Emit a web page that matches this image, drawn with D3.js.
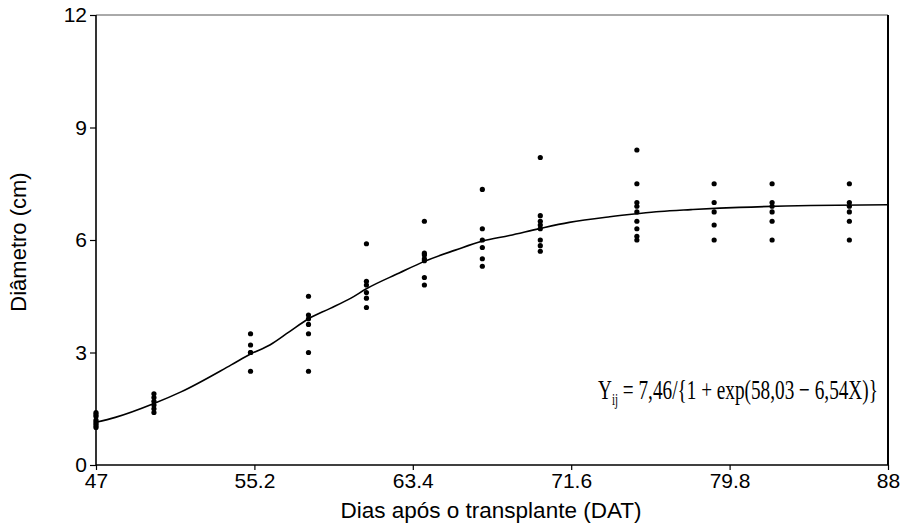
<!DOCTYPE html>
<html>
<head>
<meta charset="utf-8">
<script src="https://cdn.jsdelivr.net/npm/d3@7"></script>
<style>
  html, body { margin: 0; padding: 0; background: #fff; }
  svg { display: block; }
  text { font-family: "Liberation Sans", Arial, Helvetica, sans-serif; fill: #000; }
</style>
</head>
<body>
<svg id="chart" width="901" height="524"></svg>
<script>
// ---- data ----
const days = [47, 50, 55, 58, 61, 64, 67, 70, 75, 79, 82, 86];
const diam47 = [1.0, 1.05, 1.1, 1.15, 1.2, 1.3, 1.35, 1.4];
const diam50 = [1.4, 1.5, 1.6, 1.7, 1.8, 1.9];
const diam55 = [2.5, 3.0, 3.0, 3.2, 3.5];
const diam58 = [2.5, 3.0, 3.5, 3.75, 3.9, 4.0, 4.5];
const diam61 = [4.2, 4.45, 4.6, 4.8, 4.9, 5.9];
const diam64 = [4.8, 5.0, 5.45, 5.5, 5.6, 5.65, 6.5];
const diam67 = [5.3, 5.5, 5.8, 6.0, 6.3, 7.35];
const diam70 = [5.7, 5.85, 6.0, 6.3, 6.4, 6.5, 6.65, 8.2];
const diam75 = [6.0, 6.1, 6.3, 6.5, 6.75, 6.9, 7.0, 7.5, 8.4];
const diam79 = [6.0, 6.4, 6.75, 7.0, 7.5];
const diam82 = [6.0, 6.5, 6.75, 6.9, 7.0, 7.5];
const diam86 = [6.0, 6.5, 6.75, 6.9, 7.0, 7.5];
const diamByDay = [diam47, diam50, diam55, diam58, diam61, diam64, diam67, diam70, diam75, diam79, diam82, diam86];

// fitted curve
const curveX = [47, 48, 50, 51.4, 54, 55, 56, 57, 58, 59.1, 60.2, 61, 62.7, 64, 65.6, 67, 68.4, 70, 71.5, 73.6, 75, 76.2, 77.8, 79.3, 80.3, 84, 88];
const curveY = [1.14, 1.27, 1.64, 1.95, 2.67, 2.96, 3.2, 3.55, 3.9, 4.17, 4.45, 4.7, 5.12, 5.43, 5.73, 5.97, 6.12, 6.31, 6.47, 6.62, 6.7, 6.76, 6.81, 6.85, 6.87, 6.92, 6.94];

const xTicks = [47, 55.2, 63.4, 71.6, 79.8, 88];
const yTicks = [0, 3, 6, 9, 12];
const xTitle = "Dias após o transplante (DAT)";
const yTitle = "Diâmetro (cm)";

// ---- layout ----
const L = 96, R = 888, T = 15, B = 465;
const svg = d3.select("#chart");
const x = d3.scaleLinear().domain([47, 88]).range([L, R]);
const y = d3.scaleLinear().domain([0, 12]).range([B, T]);

// frame: top thin, right thick
svg.append("line").attr("x1", L).attr("x2", R).attr("y1", T).attr("y2", T)
  .attr("stroke", "#555").attr("stroke-width", 1);
svg.append("line").attr("x1", R).attr("x2", R).attr("y1", T).attr("y2", B)
  .attr("stroke", "#000").attr("stroke-width", 2);

// axes
const xAxis = d3.axisBottom(x).tickValues(xTicks).tickSize(5).tickPadding(3)
  .tickFormat(d => String(d));
const gx = svg.append("g").attr("transform", `translate(0,${B})`).call(xAxis);
const yAxis = d3.axisLeft(y).tickValues(yTicks).tickSize(6).tickPadding(3)
  .tickFormat(d => String(d));
const gy = svg.append("g").attr("transform", `translate(${L},0)`).call(yAxis);

[gx, gy].forEach(g => {
  g.select(".domain").attr("stroke", "#000").attr("stroke-width", 1.6);
  g.selectAll(".tick line").attr("stroke", "#000").attr("stroke-width", 1.2);
  g.selectAll(".tick text").style("font-size", "21px")
    .style("font-family", '"Liberation Sans", Arial, sans-serif').attr("fill", "#000");
});
gx.select(".domain").attr("d", `M${L},0H${R}`);
gy.select(".domain").attr("d", `M0,${T}V${B}`);

// titles
svg.append("text").attr("x", 491).attr("y", 518)
  .attr("text-anchor", "middle").style("font-size", "22.5px").text(xTitle);
svg.append("text").attr("transform", `translate(26,${242}) rotate(-90)`)
  .attr("text-anchor", "middle").style("font-size", "22px").text(yTitle);

// curve
const line = d3.line().x(d => x(d[0])).y(d => y(d[1])).curve(d3.curveMonotoneX);
svg.append("path").datum(curveX.map((v, i) => [v, curveY[i]]))
  .attr("d", line).attr("fill", "none").attr("stroke", "#000").attr("stroke-width", 1.6);

// points
const pts = [];
days.forEach((dd, i) => diamByDay[i].forEach(v => pts.push([dd, v])));
svg.append("g").selectAll("circle").data(pts).join("circle")
  .attr("cx", d => x(d[0])).attr("cy", d => y(d[1])).attr("r", 2.6).attr("fill", "#000");

// equation
const eqX = 598, eqW = 280;
const eqG = svg.append("g");
const eq = eqG.append("text").attr("x", 0).attr("y", 0)
  .style("font-family", '"Liberation Serif", "Times New Roman", serif').style("font-size", "28px")
  .attr("fill", "#000");
eq.append("tspan").attr("fill", "#000").text("Y");
eq.append("tspan").attr("fill", "#000").attr("dy", 6).style("font-size", "16px").text("ij");
eq.append("tspan").attr("fill", "#000").attr("dy", -6).text(" = 7,46/{1 + exp(58,03 \u2212 6,54X)}");
const w = eq.node().getComputedTextLength();
const sx = Math.min(1, eqW / w);
eqG.attr("transform", `translate(${eqX},399) scale(${sx},1)`);
</script>
</body>
</html>
